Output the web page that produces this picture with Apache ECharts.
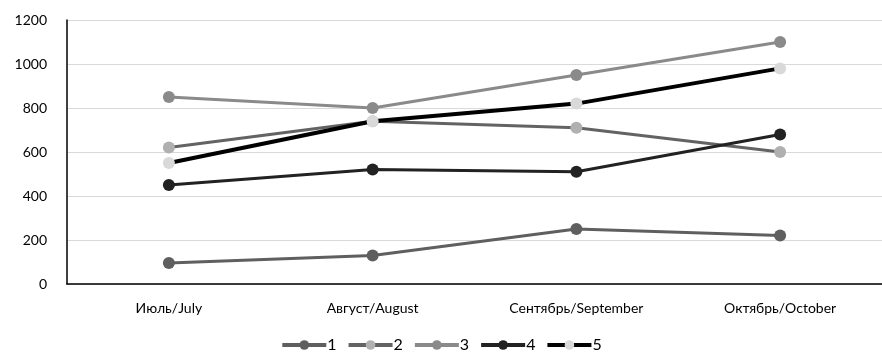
<!DOCTYPE html>
<html>
<head>
<meta charset="utf-8">
<script src="https://cdn.jsdelivr.net/npm/echarts@6/dist/echarts.min.js"></script>
<style>
  html, body { margin: 0; padding: 0; background: #fff; }
  #chart { width: 882px; height: 360px; }
</style>
</head>
<body>
<div id="chart"></div>
<script>
// Months on the category axis
const months = ['Июль/July', 'Август/August', 'Сентябрь/September', 'Октябрь/October'];

// Values for each numbered series
const s1 = [95, 130, 250, 220];
const s2 = [620, 740, 710, 600];
const s3 = [850, 800, 950, 1100];
const s4 = [450, 520, 510, 680];
const s5 = [550, 740, 820, 980];

const seriesNames = ['1', '2', '3', '4', '5'];
const seriesData = [s1, s2, s3, s4, s5];

// Line colour, marker colour, line width per series
const styles = [
  { line: '#5f5f5f', mark: '#5f5f5f', w: 3 },
  { line: '#636363', mark: '#b0b0b0', w: 3 },
  { line: '#8a8a8a', mark: '#8a8a8a', w: 3 },
  { line: '#222222', mark: '#222222', w: 3 },
  { line: '#000000', mark: '#d9d9d9', w: 4 }
];

const font = 'Lato, "Open Sans", sans-serif';

const chart = echarts.init(document.getElementById('chart'), null, { renderer: 'canvas' });

chart.setOption({
  animation: false,
  backgroundColor: '#ffffff',
  textStyle: { fontFamily: font },
  grid: { left: 67, right: -12, top: 20, bottom: 76, containLabel: false },
  legend: {
    bottom: 2,
    left: 'center',
    itemWidth: 44,
    itemHeight: 12,
    itemGap: 10,
    textStyle: { fontSize: 16, color: '#000', fontFamily: font, padding: [0, 0, 0, -4] },
    data: seriesNames.map((n, i) => ({
      name: n,
      lineStyle: { color: styles[i].line, width: 4 },
      itemStyle: { color: styles[i].mark, borderWidth: 0 }
    }))
  },
  xAxis: {
    type: 'category',
    data: months,
    boundaryGap: true,
    axisLine: { lineStyle: { color: '#000', width: 1.5 } },
    axisTick: { show: false },
    axisLabel: { color: '#000', fontSize: 14, margin: 17, fontFamily: font }
  },
  yAxis: {
    type: 'value',
    min: 0,
    max: 1200,
    interval: 200,
    axisLine: { show: true, lineStyle: { color: '#000', width: 1.5 } },
    axisTick: { show: false },
    axisLabel: { color: '#000', fontSize: 14, margin: 20, fontFamily: font, formatter: v => String(v) },
    splitLine: { lineStyle: { color: '#d9d9d9', width: 1 } }
  },
  series: seriesData.map((d, i) => ({
    name: seriesNames[i],
    type: 'line',
    data: d,
    symbol: 'circle',
    symbolSize: 12,
    showAllSymbol: true,
    z: 2 + i,
    lineStyle: { color: styles[i].line, width: styles[i].w },
    itemStyle: { color: styles[i].mark, borderWidth: 0 }
  }))
});
</script>
</body>
</html>
